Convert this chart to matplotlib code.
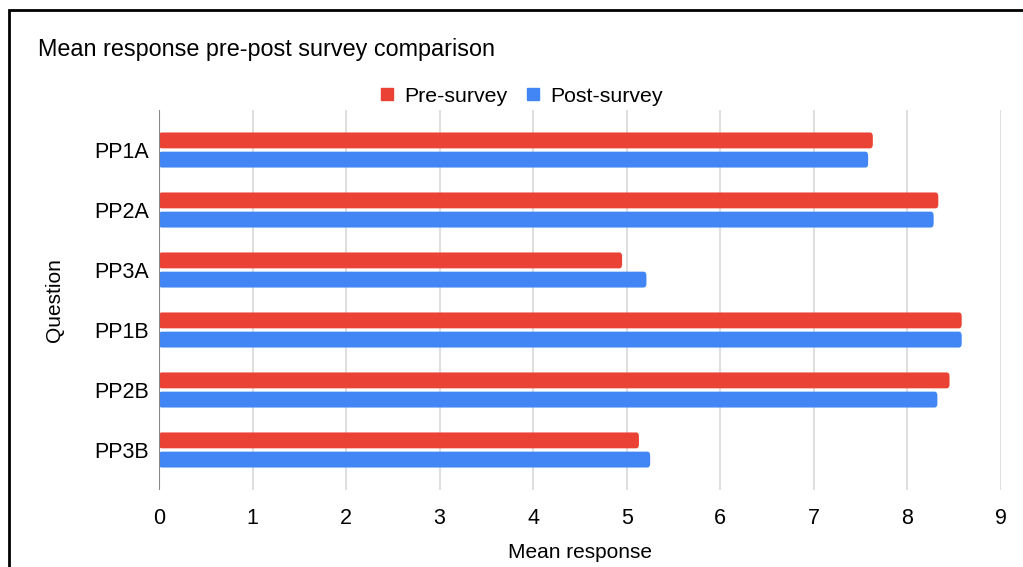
import numpy as np
import matplotlib.pyplot as plt
from matplotlib.patches import Rectangle, FancyBboxPatch

plt.rcParams['font.family'] = ['Liberation Sans', 'DejaVu Sans']

questions = ["PP1A", "PP2A", "PP3A", "PP1B", "PP2B", "PP3B"]
pre_survey = [7.63, 8.33, 4.95, 8.58, 8.45, 5.13]
post_survey = [7.58, 8.28, 5.21, 8.58, 8.32, 5.25]
x_ticks = list(range(0, 10))

RED = "#EA4335"
BLUE = "#4285F4"

fig = plt.figure(figsize=(10.23, 5.67), dpi=100)
ax = fig.add_axes([159 / 1023, 1 - 490 / 567, (1001 - 159) / 1023, (490 - 110) / 567])

y = np.arange(len(questions))
bar_h = 0.265
offset = 0.16


def rounded_barh(ax, ys, widths, color):
    # horizontal bars with slightly rounded corners
    for yc, w in zip(ys, widths):
        ax.add_patch(FancyBboxPatch((0, yc - bar_h / 2), w, bar_h,
                                    boxstyle="round,pad=0,rounding_size=0.03",
                                    mutation_aspect=2.2, color=color, lw=0, zorder=3))


rounded_barh(ax, y - offset, pre_survey, RED)
rounded_barh(ax, y + offset, post_survey, BLUE)

ax.set_xlim(0, 9)
ax.set_ylim(len(questions) - 1 + 0.667, -0.667)
ax.set_xticks(x_ticks)
ax.set_xticklabels([str(t) for t in x_ticks], fontsize=15.5)
ax.set_yticks(y)
ax.set_yticklabels(questions, fontsize=15.5)
ax.tick_params(axis='y', length=0, pad=7)
ax.tick_params(axis='x', length=0, pad=13)

for t in x_ticks[1:]:
    ax.axvline(t, color="#d9d9d9", lw=1.2, zorder=1)
ax.axvline(0, color="#888888", lw=1.5, zorder=4)

for s in ax.spines.values():
    s.set_visible(False)

ax.set_xlabel("Mean response", fontsize=15, labelpad=10)
ax.set_ylabel("Question", fontsize=15, labelpad=22)

# title and legend
fig.text(38 / 1023, 1 - 47 / 567, "Mean response pre-post survey comparison",
         fontsize=16.8, va='center_baseline', ha='left')
leg_y = 1 - 94 / 567
sq = 12
for xs, lbl, c in [(381, "Pre-survey", RED), (527, "Post-survey", BLUE)]:
    fig.patches.append(Rectangle((xs / 1023, leg_y - sq / 2 / 567), sq / 1023, sq / 567,
                                 transform=fig.transFigure, color=c, figure=fig))
    fig.text((xs + 23) / 1023, leg_y, lbl, fontsize=15.3, va='center_baseline', ha='left')

# outer frame
fig.patches.append(Rectangle((9 / 1023, -0.1), 1.2, 1 - 9.5 / 567 + 0.1,
                             transform=fig.transFigure, fill=False, ec="black", lw=2,
                             figure=fig))

fig.savefig("out.png", dpi=100)
